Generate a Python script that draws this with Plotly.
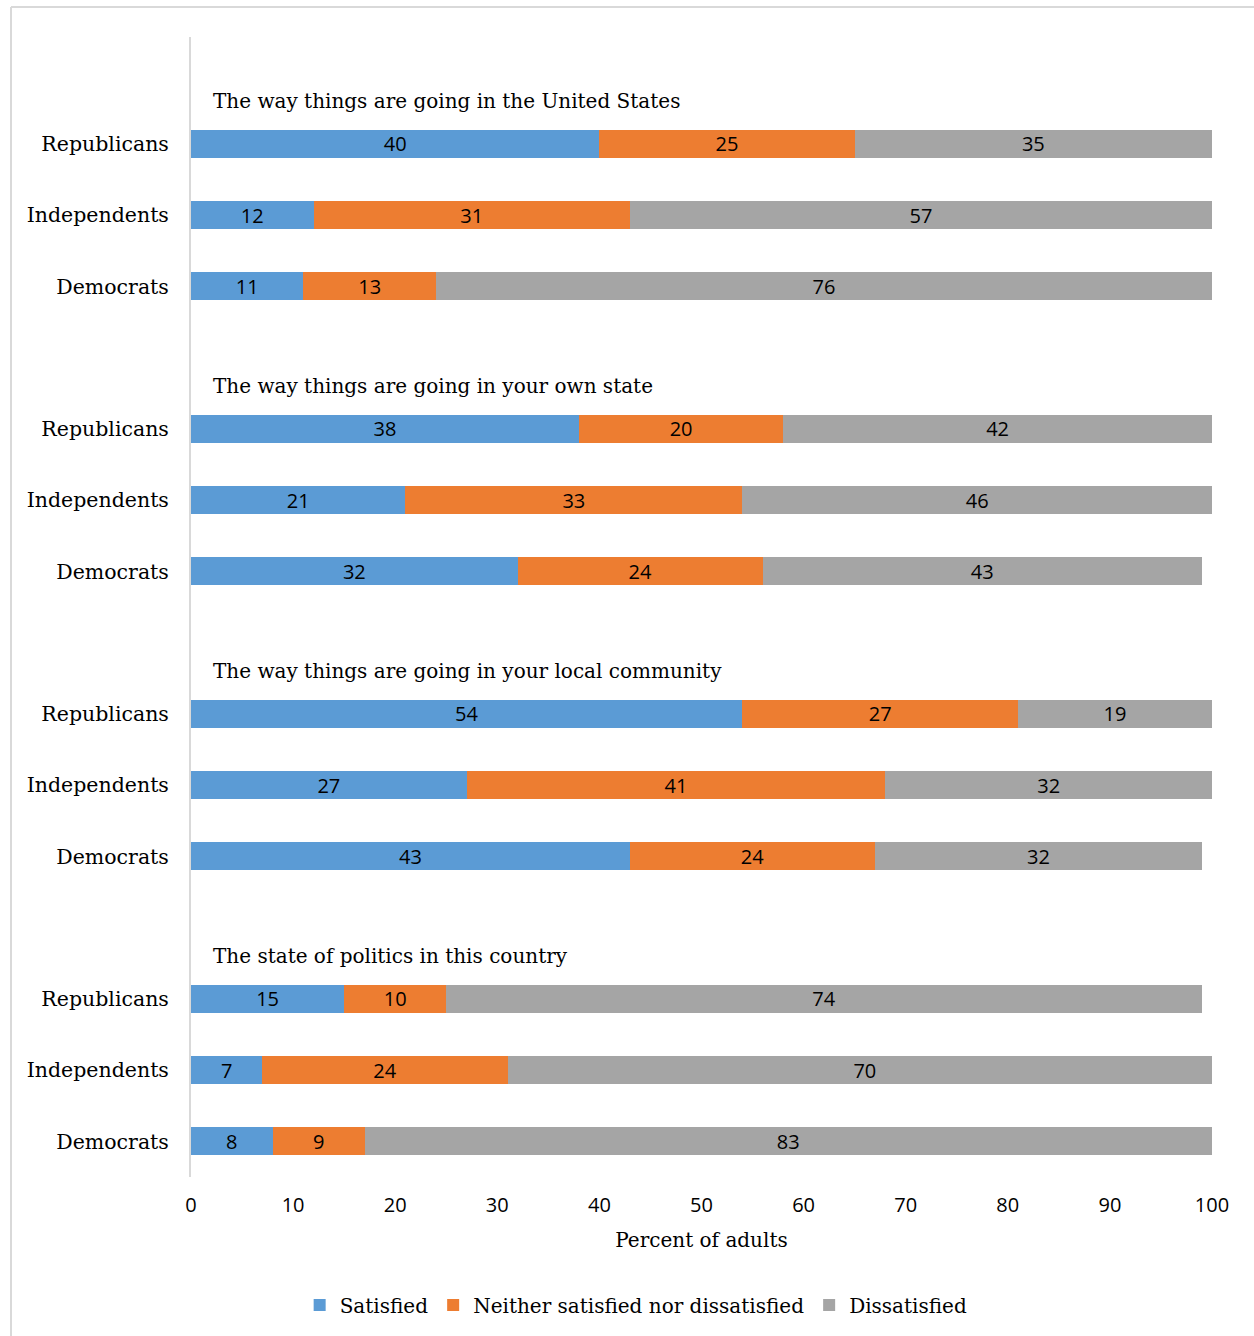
import plotly.graph_objects as go

# Survey sections and respondent groups
sections = [
    "The way things are going in the United States",
    "The way things are going in your own state",
    "The way things are going in your local community",
    "The state of politics in this country",
]
parties = ["Republicans", "Independents", "Democrats"]

# Percent of adults, listed section by section (Republicans, Independents, Democrats)
satisfied = [40, 12, 11, 38, 21, 32, 54, 27, 43, 15, 7, 8]
neither = [25, 31, 13, 20, 33, 24, 27, 41, 24, 10, 24, 9]
dissatisfied = [35, 57, 76, 42, 46, 43, 19, 32, 32, 74, 70, 83]

series_names = ["Satisfied", "Neither satisfied nor dissatisfied", "Dissatisfied"]
series_colors = ["#5B9BD5", "#ED7D31", "#A5A5A5"]

x_ticks = list(range(0, 101, 10))

SLAB = "DejaVu Serif"
SANS = "Open Sans"

# each section takes one blank row (for its heading) plus one row per party
rows_per_section = len(parties) + 1
y_pos = []
y_text = []
for s in range(len(sections)):
    for p, party in enumerate(parties):
        y_pos.append(s * rows_per_section + 1 + p)
        y_text.append(party)

fig = go.Figure()
for name, color, vals in zip(series_names, series_colors, [satisfied, neither, dissatisfied]):
    fig.add_trace(go.Bar(
        y=y_pos, x=vals, orientation="h", name=name,
        marker=dict(color=color, line=dict(width=0)),
        width=0.39,
        text=[str(v) for v in vals],
        textposition="inside", insidetextanchor="middle",
        textangle=0, constraintext="none",
        textfont=dict(family=SANS, size=20, color="#000000"),
        hoverinfo="skip",
    ))

# section headings sit in the blank row above each block
for s, title in enumerate(sections):
    fig.add_annotation(
        x=2, y=s * rows_per_section + 0.4, xref="x", yref="y",
        text=title, showarrow=False, xanchor="left", yanchor="middle",
        font=dict(family=SLAB, size=20, color="#000000"),
    )

# light frame along the top and left edges
frame = dict(color="#d9d9d9", width=2)
fig.add_shape(type="line", xref="paper", yref="paper",
              x0=-0.1763, x1=1.05, y0=1.0263, y1=1.0263, line=frame)
fig.add_shape(type="line", xref="paper", yref="paper",
              x0=-0.1763, x1=-0.1763, y0=1.0263, y1=-0.2, line=frame)

n_rows = len(sections) * rows_per_section
fig.update_layout(
    barmode="stack",
    width=1254, height=1336,
    margin=dict(l=191, r=42, t=37, b=159),
    paper_bgcolor="white", plot_bgcolor="white",
    bargap=0.6,
    showlegend=True,
    legend=dict(
        orientation="h", x=0.436, xanchor="center", y=-0.1123, yanchor="middle",
        font=dict(family=SLAB, size=20, color="#000000"),
        itemsizing="constant", traceorder="normal", itemwidth=30,
    ),
    xaxis=dict(
        range=[0, 100], tickvals=x_ticks, ticktext=[str(t) for t in x_ticks],
        showgrid=False, zeroline=False, showline=False, ticks="",
        ticklabelstandoff=14,
        tickfont=dict(family=SANS, size=20, color="#000000"),
        title=dict(text="Percent of adults", standoff=15,
                   font=dict(family=SLAB, size=20, color="#000000")),
        fixedrange=True,
    ),
    yaxis=dict(
        range=[n_rows - 0.5, -0.5],
        tickvals=y_pos, ticktext=y_text,
        showgrid=False, zeroline=False,
        showline=True, linecolor="#d9d9d9", linewidth=2,
        ticks="", ticklabelstandoff=16,
        tickfont=dict(family=SLAB, size=20.5, color="#000000"),
        fixedrange=True,
    ),
)

fig.write_html("out.html")
